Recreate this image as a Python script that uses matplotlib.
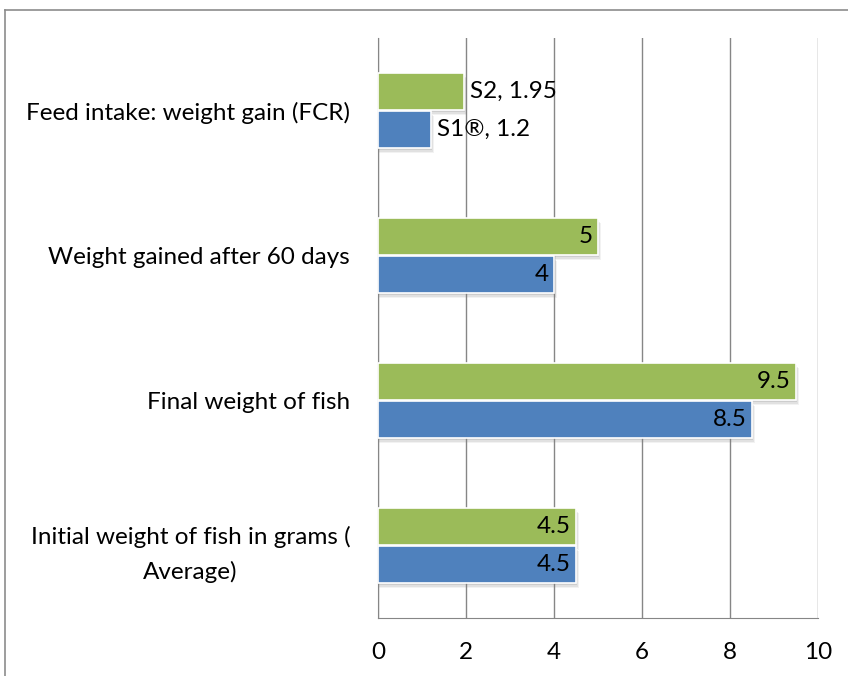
import matplotlib
matplotlib.use("Agg")
import matplotlib.pyplot as plt
from matplotlib.lines import Line2D
from matplotlib.patches import Rectangle

categories = ["Initial weight of fish in grams (\nAverage)", "Final weight of fish",
              "Weight gained after 60 days", "Feed intake: weight gain (FCR)"]
series_names = ["S1®", "S2"]
s1_values = [4.5, 8.5, 4, 1.2]
s2_values = [4.5, 9.5, 5, 1.95]
xticks = [0, 2, 4, 6, 8, 10]

plt.rcParams['font.family'] = ['Lato', 'DejaVu Sans']
FS = 17.5

fig = plt.figure(figsize=(8.48, 6.76), dpi=100)
ax = fig.add_axes([378/848, 58/676, 440/848, 580/676])

h = 0.255
off = 0.131
blue = "#4F81BD"
green = "#9BBB59"

for i, (v1, v2) in enumerate(zip(s1_values, s2_values)):
    for v, y in ((v2, i + off), (v1, i - off)):
        # soft shadow
        for k, a in ((0.10, 0.10), (0.07, 0.15), (0.04, 0.2)):
            ax.add_patch(Rectangle((0 + k * 0.3, y - h / 2 - k * 0.35), v + k * 0.4, h,
                                   facecolor="#808080", alpha=a, edgecolor="none", zorder=2))
    ax.barh(i + off, v2, height=h, color=green, edgecolor="white", linewidth=1.2, zorder=3)
    ax.barh(i - off, v1, height=h, color=blue, edgecolor="white", linewidth=1.2, zorder=3)
    if i == len(categories) - 1:
        ax.text(v2 + 0.15, i + off, f"{series_names[1]}, {v2:g}", ha="left", va="center", fontsize=FS, zorder=5)
        ax.text(v1 + 0.15, i - off, f"{series_names[0]}, {v1:g}", ha="left", va="center", fontsize=FS, zorder=5)
    else:
        ax.text(v2 - 0.12, i + off, f"{v2:g}", ha="right", va="center", fontsize=FS, zorder=5)
        ax.text(v1 - 0.12, i - off, f"{v1:g}", ha="right", va="center", fontsize=FS, zorder=5)

ax.set_xlim(0, 10)
ax.set_ylim(-0.5, 3.5)
ax.set_xticks(xticks)
ax.set_xticklabels([str(t) for t in xticks], fontsize=FS)
ax.set_yticks(range(len(categories)))
ax.set_yticklabels(categories, fontsize=FS, multialignment="center", linespacing=1.75)
ax.tick_params(axis="x", length=0, pad=17)
ax.tick_params(axis="y", length=0, pad=20)
for t in xticks:
    ax.axvline(t, color="#868686", linewidth=1, zorder=1)
for s in ["top", "right"]:
    ax.spines[s].set_visible(False)
ax.spines["left"].set_color("#868686")
ax.spines["bottom"].set_color("#868686")
ax.spines["bottom"].set_zorder(4)

fig.add_artist(Line2D([5/848, 5/848], [0, 1 - 10/676], color="#8c8c8c", linewidth=1.2, transform=fig.transFigure))
fig.add_artist(Line2D([5/848, 1], [1 - 10/676, 1 - 10/676], color="#8c8c8c", linewidth=1.2, transform=fig.transFigure))

fig.savefig("out.png", dpi=100)
